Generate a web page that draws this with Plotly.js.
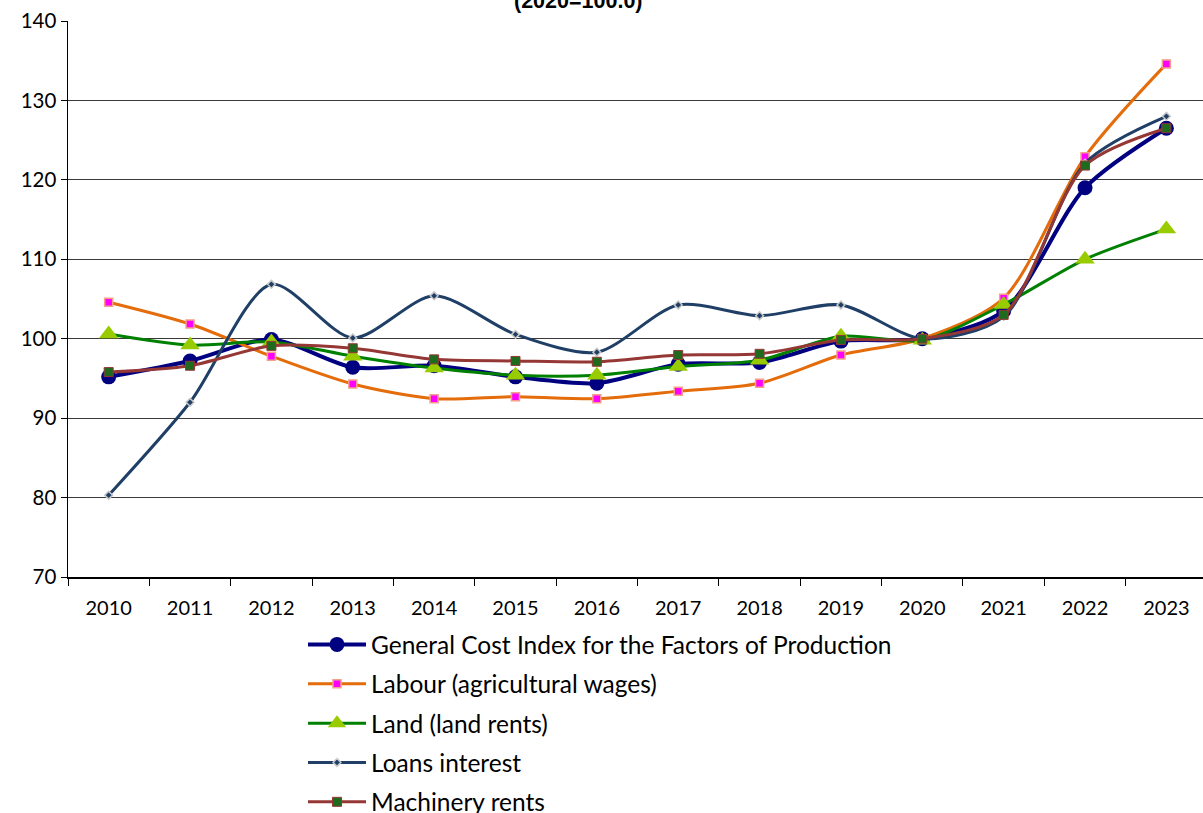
<!DOCTYPE html>
<html>
<head>
<meta charset="utf-8">
<script src="https://cdn.plot.ly/plotly-3.0.1.min.js"></script>
<style>html,body{margin:0;padding:0;background:#fff;overflow:hidden;}#chart{width:1203px;height:830px;}</style>
</head>
<body>
<div id="chart"></div>
<script>
const years = ["2010","2011","2012","2013","2014","2015","2016","2017","2018","2019","2020","2021","2022","2023"];
const generalIndex = [95.2, 97.2, 99.9, 96.4, 96.6, 95.2, 94.4, 96.8, 97.0, 99.7, 100.0, 103.5, 119.0, 126.5];
const labour = [104.6, 101.85, 97.8, 94.3, 92.45, 92.7, 92.45, 93.4, 94.4, 97.95, 100.0, 105.1, 122.9, 134.6];
const land = [100.6, 99.2, 99.6, 97.8, 96.3, 95.4, 95.4, 96.5, 97.3, 100.3, 99.8, 104.3, 110.0, 113.8];
const loans = [80.3, 92.0, 106.85, 100.1, 105.4, 100.55, 98.3, 104.25, 102.9, 104.25, 100.0, 102.8, 122.1, 128.0];
const machinery = [95.8, 96.6, 99.1, 98.8, 97.4, 97.2, 97.1, 97.95, 98.1, 99.85, 100.0, 103.0, 121.8, 126.5];
const seriesNames = ["General Cost Index for the Factors of Production", "Labour (agricultural wages)", "Land (land rents)", "Loans interest", "Machinery rents"];
const titleText = "<b>(2020=100.0)</b>";

const FONT = "Lato, 'Open Sans', sans-serif";
const traces = [
  {y: generalIndex, name: seriesNames[0], line: {color: "#000080", width: 4, shape: "spline", smoothing: 0.8},
   marker: {symbol: "circle", size: 15, color: "#000080"}},
  {y: labour, name: seriesNames[1], line: {color: "#E46C0A", width: 3, shape: "spline", smoothing: 0.8},
   marker: {symbol: "square", size: 8, color: "#FF00FF", line: {color: "#F4A08A", width: 1.5}}},
  {y: land, name: seriesNames[2], line: {color: "#008000", width: 3, shape: "spline", smoothing: 0.8},
   marker: {symbol: "triangle-up", size: 17, color: "#99CC00"}},
  {y: loans, name: seriesNames[3], line: {color: "#1F3F66", width: 3, shape: "spline", smoothing: 0.8},
   marker: {symbol: "diamond", size: 6, color: "#1F3F66", line: {color: "#C8C8C8", width: 1.5}}},
  {y: machinery, name: seriesNames[4], line: {color: "#953735", width: 3, shape: "spline", smoothing: 0.8},
   marker: {symbol: "square", size: 9, color: "#1E6B1E", line: {color: "#953735", width: 1}}}
].map((t, i) => Object.assign({x: years, type: "scatter", mode: "lines+markers", legendgroup: "g" + i}, t));

const layout = {
  width: 1203, height: 830,
  margin: {l: 68, r: 0, t: 21, b: 253, pad: 0},
  paper_bgcolor: "#fff", plot_bgcolor: "#fff",
  font: {family: FONT, size: 20, color: "#000"},
  annotations: [{text: titleText, xref: "paper", yref: "paper", x: (578-68)/1135, y: 1 + 20/556,
                 xanchor: "center", yanchor: "middle", showarrow: false,
                 font: {family: "'Liberation Sans', Arial, sans-serif", size: 21.5, color: "#000"}}],
  showlegend: true,
  legend: {xref: "paper", yref: "paper", x: (303-68)/1135, y: (577-622)/556, xanchor: "left", yanchor: "top",
           orientation: "v", traceorder: "grouped", tracegroupgap: 4.5, font: {family: FONT, size: 24.5, color: "#000"},
           bgcolor: "rgba(0,0,0,0)", itemwidth: 58},
  xaxis: {type: "category", range: [-0.5, 13.45], showgrid: false, showline: true, linecolor: "#000", linewidth: 1.5,
          ticks: "outside", tickson: "boundaries", ticklen: 7, tickcolor: "#000", tickwidth: 1, tickangle: 0,
          ticklabelstandoff: 12,
          tickfont: {family: FONT, size: 20, color: "#000"}, zeroline: false, fixedrange: true, automargin: false},
  yaxis: {range: [70, 140], dtick: 10, tick0: 70, showgrid: true, gridcolor: "#3a3a3a", gridwidth: 1,
          showline: true, linecolor: "#000", linewidth: 1.5, ticks: "outside", ticklen: 6, tickcolor: "#000",
          tickfont: {family: FONT, size: 20.5, color: "#000"}, zeroline: false, fixedrange: true, automargin: false}
};

Plotly.newPlot("chart", traces, layout, {displayModeBar: false, staticPlot: true});
</script>
</body>
</html>
